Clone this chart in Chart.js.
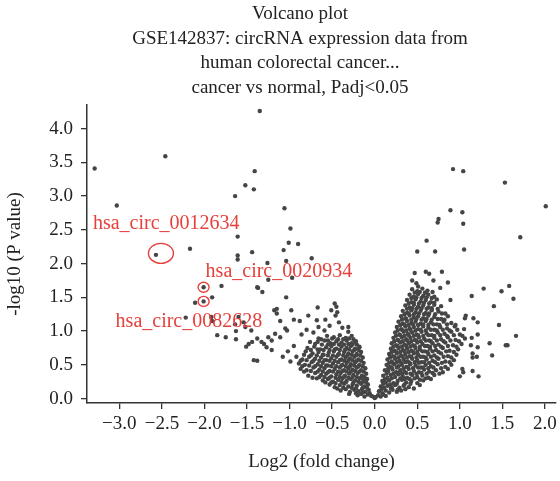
<!DOCTYPE html>
<html>
<head>
<meta charset="utf-8">
<script src="https://cdn.jsdelivr.net/npm/chart.js@4.4.1/dist/chart.umd.min.js"></script>
<style>
  html, body { margin: 0; padding: 0; background: #fff; }
  canvas { display: block; }
</style>
</head>
<body>
<canvas id="volcano" width="560" height="481"></canvas>
<script>
// Title lines
const titleLines = [
  'Volcano plot',
  'GSE142837: circRNA expression data from',
  'human colorectal cancer...',
  'cancer vs normal, Padj<0.05'
];

// Tick labels
const xTicks = [-3.0, -2.5, -2.0, -1.5, -1.0, -0.5, 0.0, 0.5, 1.0, 1.5, 2.0];
const yTicks = [0.0, 0.5, 1.0, 1.5, 2.0, 2.5, 3.0, 3.5, 4.0];

// Highlighted circRNAs
const highlightNames = ['hsa_circ_0012634', 'hsa_circ_0020934', 'hsa_circ_0082628'];
const highlightFC = [-2.57, -2.01, -2.01];
const highlightP = [2.13, 1.65, 1.44];

// [log2 fold change, -log10 P]
const downOutliers = [
  [-3.29,3.41],[-2.46,3.59],[-3.03,2.86],[-2.17,2.22],[-1.64,3.00],[-1.52,3.16],[-1.42,3.10],
  [-1.41,3.37],[-1.35,4.26],[-1.61,2.40],[-1.61,2.12],[-1.61,2.06],[-1.44,2.17],[-1.06,2.82],
  [-0.99,2.52],[-1.01,2.31],[-0.90,2.29],[-1.07,2.20],[-1.04,2.04],[-0.74,2.08],[-1.26,2.01],
  [-1.25,1.76],[-0.97,1.79]
];

const downSparse = [
  [-1.80,1.67],[-1.38,1.65],[-1.32,1.58],[-1.91,1.50],[-1.04,1.50],[-2.11,1.42],[-2.22,1.20],
  [-1.92,1.21],[-1.91,1.15],[-1.85,0.94],[-1.75,0.91],[-1.63,1.00],[-1.63,0.88],[-1.64,1.10],
  [-1.52,1.06],[-1.45,1.01],[-1.51,0.77],[-1.48,0.81],[-1.44,0.84],[-1.42,0.57],[-1.37,1.64],
  [-1.18,1.31],[-1.15,1.26],[-1.11,1.15],[-1.15,1.33],[-0.98,1.31],[-0.78,1.23],[-0.67,1.35],
  [-0.47,1.41],[-0.45,1.36],[-0.46,1.23],[-0.51,1.31],[-0.44,1.28],[-0.58,1.17],[-0.68,1.16],
  [-0.66,1.06],[-0.88,1.15],[-0.95,1.17],[-1.05,1.04],[-1.03,1.01],[-1.17,0.96],[-1.11,0.91],
  [-1.25,0.91],[-1.21,0.86],[-1.30,0.81],[-1.21,0.72],[-1.02,0.70],[-1.38,0.56],[-0.76,0.84],
  [-0.66,0.89],[-0.59,1.01],[-0.55,0.86],[-0.31,0.99],[-0.23,0.84],[-0.31,1.06],[-0.18,0.76],
  [-1.38,0.89],[-1.33,0.84],[-1.27,0.76],[-1.60,1.21],[-1.54,1.13],[-0.92,0.62],[-0.95,0.78],
  [-0.99,0.55],[-1.08,0.62],[-0.86,0.95],[-0.80,1.02],[-0.72,0.98],[-0.42,1.13],[-0.38,1.05],
  [-0.53,1.08]
];

const downCluster = [
  [-0.04,0.04],[-0.08,0.06],[-0.12,0.03],[-0.16,0.07],[-0.20,0.05],[0.00,0.01],
  [-0.07,0.13],[-0.11,0.10],[-0.15,0.14],[-0.19,0.11],[-0.24,0.13],[-0.29,0.10],[-0.34,0.14],[-0.40,0.12],
  [-0.08,0.21],[-0.12,0.18],[-0.16,0.22],[-0.21,0.19],[-0.26,0.21],[-0.31,0.18],[-0.36,0.22],[-0.41,0.20],
  [-0.47,0.17],[-0.53,0.21],
  [-0.09,0.29],[-0.13,0.26],[-0.18,0.30],[-0.23,0.27],[-0.28,0.29],[-0.33,0.26],[-0.38,0.30],[-0.43,0.28],
  [-0.49,0.25],[-0.55,0.29],[-0.61,0.27],[-0.68,0.30],
  [-0.10,0.37],[-0.15,0.34],[-0.20,0.38],[-0.25,0.35],[-0.30,0.37],[-0.35,0.34],[-0.40,0.38],[-0.45,0.36],
  [-0.51,0.33],[-0.57,0.37],[-0.63,0.35],[-0.70,0.38],[-0.78,0.34],
  [-0.11,0.45],[-0.16,0.42],[-0.21,0.46],[-0.26,0.43],[-0.31,0.45],[-0.36,0.42],[-0.41,0.46],[-0.47,0.44],
  [-0.53,0.41],[-0.59,0.45],[-0.65,0.43],[-0.72,0.46],[-0.80,0.42],[-0.87,0.44],
  [-0.13,0.53],[-0.18,0.50],[-0.23,0.54],[-0.28,0.51],[-0.33,0.53],[-0.38,0.50],[-0.43,0.54],[-0.49,0.52],
  [-0.55,0.49],[-0.61,0.53],[-0.67,0.51],[-0.74,0.54],[-0.82,0.50],[-0.89,0.52],
  [-0.14,0.61],[-0.19,0.58],[-0.24,0.62],[-0.29,0.59],[-0.34,0.61],[-0.39,0.58],[-0.45,0.62],[-0.51,0.60],
  [-0.57,0.57],[-0.63,0.61],[-0.70,0.59],[-0.77,0.62],[-0.85,0.58],
  [-0.16,0.69],[-0.21,0.66],[-0.26,0.70],[-0.31,0.67],[-0.36,0.69],[-0.42,0.66],[-0.48,0.70],[-0.54,0.68],
  [-0.60,0.65],[-0.66,0.69],[-0.73,0.67],[-0.81,0.70],
  [-0.18,0.77],[-0.23,0.74],[-0.28,0.78],[-0.33,0.75],[-0.39,0.77],[-0.45,0.74],[-0.51,0.78],[-0.57,0.76],
  [-0.64,0.73],[-0.71,0.77],[-0.79,0.75],
  [-0.22,0.85],[-0.27,0.82],[-0.33,0.86],[-0.39,0.83],[-0.45,0.85],[-0.52,0.82],[-0.59,0.86],[-0.67,0.84],
  [-0.27,0.93],[-0.34,0.90],[-0.41,0.94],[-0.48,0.91],[-0.56,0.93]
];

const downClusterFill = [
  [-0.06,0.08],[-0.14,0.09],[-0.22,0.08],[-0.30,0.07],
  [-0.09,0.16],[-0.14,0.16],[-0.22,0.15],[-0.27,0.16],[-0.37,0.16],[-0.44,0.15],
  [-0.10,0.24],[-0.15,0.24],[-0.19,0.25],[-0.25,0.24],[-0.34,0.24],[-0.39,0.25],[-0.46,0.23],[-0.51,0.24],
  [-0.58,0.24],
  [-0.12,0.32],[-0.16,0.31],[-0.21,0.32],[-0.26,0.32],[-0.31,0.31],[-0.36,0.32],[-0.41,0.32],[-0.46,0.31],
  [-0.53,0.31],[-0.59,0.32],[-0.65,0.32],[-0.73,0.31],
  [-0.13,0.40],[-0.18,0.40],[-0.23,0.41],[-0.28,0.40],[-0.33,0.40],[-0.38,0.41],[-0.43,0.40],[-0.49,0.40],
  [-0.55,0.39],[-0.61,0.40],[-0.67,0.40],[-0.75,0.41],[-0.83,0.40],
  [-0.14,0.48],[-0.19,0.48],[-0.24,0.49],[-0.29,0.48],[-0.34,0.48],[-0.39,0.49],[-0.45,0.48],[-0.51,0.48],
  [-0.57,0.49],[-0.63,0.48],[-0.70,0.48],[-0.77,0.49],[-0.85,0.48],
  [-0.16,0.56],[-0.21,0.56],[-0.26,0.57],[-0.31,0.56],[-0.36,0.56],[-0.41,0.57],[-0.47,0.56],[-0.53,0.56],
  [-0.59,0.57],[-0.65,0.56],[-0.72,0.56],[-0.80,0.57],[-0.87,0.56],
  [-0.17,0.64],[-0.22,0.64],[-0.27,0.65],[-0.32,0.64],[-0.37,0.64],[-0.43,0.65],[-0.49,0.64],[-0.55,0.64],
  [-0.61,0.65],[-0.68,0.64],[-0.75,0.64],[-0.83,0.65],
  [-0.19,0.72],[-0.24,0.72],[-0.30,0.73],[-0.35,0.72],[-0.41,0.72],[-0.47,0.73],[-0.53,0.72],[-0.60,0.72],
  [-0.67,0.73],[-0.75,0.72],
  [-0.21,0.80],[-0.26,0.80],[-0.31,0.81],[-0.36,0.80],[-0.42,0.80],[-0.48,0.81],[-0.55,0.80],[-0.62,0.80],
  [-0.70,0.81],
  [-0.25,0.88],[-0.30,0.89],[-0.37,0.88],[-0.43,0.88],[-0.50,0.89],[-0.63,0.88]
];

const upCluster = [
  [0.01,0.02],[0.04,0.05],[0.07,0.03],[0.10,0.06],[0.13,0.04],[-0.02,0.03],
  [0.05,0.11],[0.09,0.08],[0.13,0.12],[0.17,0.09],[0.21,0.13],[0.26,0.10],[0.31,0.12],
  [0.07,0.18],[0.11,0.16],[0.15,0.19],[0.20,0.17],[0.24,0.20],[0.29,0.16],[0.34,0.19],[0.40,0.17],[0.46,0.15],
  [0.09,0.26],[0.13,0.24],[0.17,0.27],[0.22,0.23],[0.27,0.26],[0.32,0.28],[0.37,0.24],[0.43,0.26],[0.50,0.23],
  [0.57,0.27],
  [0.10,0.34],[0.15,0.31],[0.19,0.35],[0.24,0.32],[0.28,0.36],[0.33,0.33],[0.38,0.31],[0.44,0.35],[0.50,0.32],
  [0.56,0.34],[0.63,0.31],[0.70,0.35],
  [0.12,0.42],[0.16,0.40],[0.21,0.43],[0.25,0.39],[0.30,0.42],[0.35,0.40],[0.40,0.44],[0.46,0.41],[0.52,0.39],
  [0.58,0.43],[0.64,0.40],[0.72,0.42],[0.80,0.39],
  [0.14,0.50],[0.18,0.47],[0.23,0.51],[0.28,0.48],[0.32,0.50],[0.37,0.47],[0.42,0.51],[0.48,0.49],[0.54,0.46],
  [0.60,0.50],[0.66,0.48],[0.74,0.51],[0.83,0.47],[0.90,0.50],
  [0.15,0.58],[0.20,0.55],[0.24,0.59],[0.29,0.56],[0.34,0.58],[0.39,0.55],[0.44,0.59],[0.50,0.57],[0.55,0.54],
  [0.61,0.58],[0.68,0.56],[0.75,0.59],[0.83,0.55],[0.93,0.57],
  [0.17,0.66],[0.21,0.63],[0.26,0.67],[0.31,0.64],[0.36,0.66],[0.41,0.63],[0.46,0.67],[0.51,0.65],[0.57,0.62],
  [0.63,0.66],[0.70,0.64],[0.78,0.67],[0.86,0.63],[0.96,0.65],
  [0.19,0.74],[0.23,0.71],[0.28,0.75],[0.33,0.72],[0.38,0.74],[0.43,0.71],[0.48,0.75],[0.53,0.73],[0.59,0.70],
  [0.65,0.74],[0.72,0.72],[0.80,0.75],[0.88,0.71],[0.98,0.73],
  [0.20,0.82],[0.25,0.79],[0.30,0.83],[0.35,0.80],[0.40,0.82],[0.45,0.79],[0.50,0.83],[0.56,0.81],[0.62,0.78],
  [0.68,0.82],[0.75,0.80],[0.83,0.83],[0.92,0.79],[1.02,0.81],
  [0.22,0.90],[0.27,0.87],[0.32,0.91],[0.37,0.88],[0.42,0.90],[0.47,0.87],[0.52,0.91],[0.58,0.89],[0.64,0.86],
  [0.70,0.90],[0.78,0.88],[0.86,0.91],[0.95,0.87],[1.06,0.89],
  [0.24,0.98],[0.29,0.95],[0.34,0.99],[0.39,0.96],[0.44,0.98],[0.49,0.95],[0.55,0.99],[0.61,0.97],[0.67,0.94],
  [0.74,0.98],[0.82,0.96],[0.90,0.99],[1.00,0.95],
  [0.26,1.06],[0.31,1.03],[0.36,1.07],[0.41,1.04],[0.46,1.06],[0.51,1.03],[0.57,1.07],[0.63,1.05],[0.70,1.02],
  [0.77,1.06],[0.85,1.04],[0.94,1.07],[1.05,1.03],
  [0.28,1.14],[0.33,1.11],[0.38,1.15],[0.43,1.12],[0.48,1.14],[0.54,1.11],[0.60,1.15],[0.66,1.13],[0.73,1.10],
  [0.81,1.14],[0.90,1.12],
  [0.31,1.22],[0.36,1.19],[0.41,1.23],[0.46,1.20],[0.51,1.22],[0.57,1.19],[0.63,1.23],[0.70,1.21],[0.78,1.18],
  [0.86,1.22],
  [0.33,1.30],[0.38,1.27],[0.43,1.31],[0.48,1.28],[0.54,1.30],[0.60,1.27],[0.67,1.31],[0.75,1.29],[0.83,1.26],
  [0.36,1.38],[0.41,1.35],[0.46,1.39],[0.51,1.36],[0.57,1.38],[0.63,1.35],[0.70,1.39],[0.78,1.37],
  [0.38,1.46],[0.43,1.43],[0.48,1.47],[0.54,1.44],[0.60,1.46],[0.66,1.43],[0.73,1.47],
  [0.41,1.54],[0.46,1.51],[0.51,1.55],[0.57,1.52],[0.63,1.54],[0.70,1.51],
  [0.44,1.62],[0.50,1.59],[0.56,1.63],[0.62,1.60],[0.68,1.58]
];

const upClusterFill = [
  [0.08,0.14],[0.19,0.15],[0.27,0.13],[0.36,0.14],
  [0.10,0.22],[0.18,0.21],[0.26,0.22],[0.35,0.21],[0.42,0.22],[0.53,0.20],
  [0.12,0.29],[0.20,0.30],[0.30,0.30],[0.35,0.29],[0.41,0.29],[0.47,0.30],[0.53,0.28],[0.60,0.30],[0.66,0.29],
  [0.14,0.37],[0.22,0.37],[0.27,0.38],[0.32,0.37],[0.37,0.38],[0.42,0.37],[0.49,0.37],[0.55,0.38],[0.61,0.37],
  [0.68,0.38],[0.76,0.37],
  [0.16,0.45],[0.20,0.46],[0.26,0.46],[0.34,0.45],[0.39,0.47],[0.45,0.45],[0.51,0.46],[0.57,0.46],[0.63,0.45],
  [0.69,0.46],[0.78,0.45],[0.86,0.44],
  [0.17,0.53],[0.21,0.53],[0.26,0.54],[0.31,0.53],[0.36,0.54],[0.41,0.53],[0.47,0.54],[0.52,0.53],[0.58,0.54],
  [0.64,0.53],[0.71,0.54],[0.79,0.53],[0.88,0.54],
  [0.18,0.61],[0.23,0.62],[0.28,0.61],[0.33,0.62],[0.38,0.61],[0.43,0.62],[0.49,0.61],[0.54,0.62],[0.60,0.61],
  [0.66,0.62],[0.73,0.61],[0.81,0.62],[0.90,0.61],
  [0.20,0.69],[0.25,0.70],[0.30,0.69],[0.35,0.70],[0.40,0.69],[0.45,0.70],[0.50,0.69],[0.56,0.70],[0.62,0.69],
  [0.68,0.70],[0.75,0.69],[0.84,0.70],[0.93,0.69],
  [0.22,0.77],[0.27,0.78],[0.32,0.77],[0.37,0.78],[0.42,0.77],[0.47,0.78],[0.53,0.77],[0.59,0.78],[0.65,0.77],
  [0.71,0.78],[0.78,0.77],[0.86,0.78],[0.96,0.77],
  [0.23,0.85],[0.28,0.86],[0.33,0.85],[0.38,0.86],[0.43,0.85],[0.49,0.86],[0.54,0.85],[0.60,0.86],[0.66,0.85],
  [0.73,0.86],[0.81,0.85],[0.89,0.86],[0.99,0.85],
  [0.25,0.93],[0.30,0.94],[0.35,0.93],[0.40,0.94],[0.46,0.93],[0.51,0.94],[0.57,0.93],[0.63,0.94],[0.70,0.93],
  [0.77,0.94],[0.85,0.93],[0.93,0.94],[1.03,0.93],
  [0.27,1.01],[0.32,1.02],[0.37,1.01],[0.42,1.02],[0.48,1.01],[0.54,1.02],[0.60,1.01],[0.66,1.02],[0.73,1.01],
  [0.80,1.02],[0.88,1.01],[0.97,1.02],
  [0.30,1.09],[0.35,1.10],[0.40,1.09],[0.45,1.10],[0.51,1.09],[0.57,1.10],[0.63,1.09],[0.69,1.10],[0.76,1.09],
  [0.85,1.10],[0.95,1.09],
  [0.32,1.17],[0.37,1.18],[0.43,1.17],[0.49,1.18],[0.55,1.17],[0.61,1.18],[0.67,1.17],[0.74,1.18],[0.82,1.17],
  [0.35,1.25],[0.40,1.26],[0.46,1.25],[0.52,1.26],[0.58,1.25],[0.64,1.26],[0.71,1.25],[0.79,1.26],
  [0.38,1.33],[0.44,1.34],[0.49,1.33],[0.55,1.34],[0.61,1.33],[0.67,1.34],[0.74,1.33],
  [0.40,1.41],[0.46,1.42],[0.52,1.41],[0.58,1.42],[0.64,1.41],[0.70,1.42],
  [0.43,1.49],[0.49,1.50],[0.55,1.49],[0.61,1.50],[0.67,1.49],
  [0.47,1.57],[0.53,1.58],[0.59,1.57]
];

const upSparse = [
  [1.14,1.52],[1.28,1.63],[1.49,1.59],[1.58,1.67],[1.63,1.48],[1.40,1.37],[1.46,1.09],[1.66,0.93],
  [1.54,0.79],[1.56,0.79],[1.35,0.82],[1.38,0.64],[1.22,0.33],[1.15,0.41],[1.03,0.44],[1.04,0.39],
  [1.00,0.33],[1.21,0.95],[1.21,0.76],[1.15,0.67],[1.20,0.62],[1.15,0.61],[1.16,1.19],[1.21,1.13],
  [1.07,1.23],[1.06,1.19],[1.14,0.90],[1.13,0.79],[0.89,1.46],[0.86,1.72],[0.77,1.64],[0.79,1.88],
  [0.69,1.75],[0.60,1.88],[0.64,1.85],[0.47,1.86],[0.44,1.75],[0.49,1.71],[0.51,1.66],[0.60,1.57]
];

const upOutliers = [
  [0.92,3.40],[1.04,3.37],[1.53,3.20],[2.01,2.85],[0.89,2.79],[1.03,2.76],[0.75,2.66],[0.74,2.61],
  [1.04,2.59],[1.71,2.39],[0.61,2.34],[0.50,2.18],[0.71,2.18],[1.05,2.21]
];

const FONT = 'Liberation Serif, Times New Roman, serif';
const POINT_COLOR = '#454545';
const RED = '#e5403b';
const AXIS = '#333333';

function toXY(list) {
  return list.map(([x, y]) => ({ x, y }));
}

const allPoints = [].concat(
  downOutliers, downSparse, downCluster, downClusterFill,
  upCluster, upClusterFill, upSparse, upOutliers
);
const highlightPoints = highlightFC.map((x, i) => ({ x, y: highlightP[i] }));

// Title drawn over the plot, centred like the original
const titlePlugin = {
  id: 'volcanoTitle',
  afterDraw(chart) {
    const c = chart.ctx;
    c.save();
    c.fillStyle = '#222';
    c.font = '19px ' + FONT;
    c.textAlign = 'center';
    c.textBaseline = 'middle';
    titleLines.forEach((line, i) => {
      c.fillText(line, 300, 14 + i * 24.6);
    });
    c.restore();
  }
};

// Red circles and names for the highlighted circRNAs
const highlightPlugin = {
  id: 'highlights',
  afterDatasetsDraw(chart) {
    const c = chart.ctx;
    const xs = chart.scales.x;
    const ys = chart.scales.y;
    const labelOffsets = [[-63, -31], [2, -15], [-88, 20]];
    c.save();
    c.strokeStyle = RED;
    c.fillStyle = RED;
    c.lineWidth = 1.4;
    highlightNames.forEach((name, i) => {
      const px = xs.getPixelForValue(highlightFC[i]);
      const py = ys.getPixelForValue(highlightP[i]);
      c.beginPath();
      if (i === 0) {
        c.ellipse(px + 5, py - 1.5, 12.5, 10, 0, 0, Math.PI * 2);
      } else {
        c.ellipse(px, py, 5.5, 5, 0, 0, Math.PI * 2);
      }
      c.stroke();
      c.font = '20px ' + FONT;
      c.textAlign = 'left';
      c.textBaseline = 'middle';
      c.fillText(name, px + labelOffsets[i][0], py + labelOffsets[i][1]);
    });
    c.restore();
  }
};

const tickFont = { family: FONT, size: 19 };

new Chart(document.getElementById('volcano'), {
  type: 'scatter',
  data: {
    datasets: [
      {
        data: toXY(allPoints),
        backgroundColor: POINT_COLOR,
        borderWidth: 0,
        pointRadius: 2.2
      },
      {
        data: highlightPoints,
        backgroundColor: POINT_COLOR,
        borderWidth: 0,
        pointRadius: 2.2
      }
    ]
  },
  options: {
    responsive: false,
    animation: false,
    layout: { padding: { top: 105, right: 1, left: 0, bottom: 0 } },
    plugins: {
      legend: { display: false },
      tooltip: { enabled: false }
    },
    scales: {
      x: {
        type: 'linear',
        min: -3.38,
        max: 2.13,
        afterBuildTicks: (s) => { s.ticks = xTicks.map(v => ({ value: v })); },
        afterFit: (s) => { s.height = 78; s.paddingLeft = 0; s.paddingRight = 0; },
        grid: { drawOnChartArea: false, drawTicks: true, tickLength: 6, color: AXIS, lineWidth: 1.3 },
        border: { display: true, color: AXIS, width: 1.5 },
        ticks: {
          font: tickFont,
          color: '#222',
          padding: 4,
          maxRotation: 0,
          autoSkip: false,
          callback: (v) => (v < 0 ? '\u2212' : '') + Math.abs(v).toFixed(1)
        },
        title: {
          display: true,
          text: 'Log2 (fold change)',
          font: tickFont,
          color: '#222',
          padding: { top: 0, bottom: 8 }
        }
      },
      y: {
        type: 'linear',
        min: -0.065,
        max: 4.35,
        afterBuildTicks: (s) => { s.ticks = yTicks.map(v => ({ value: v })); },
        afterFit: (s) => { s.width = 87; s.paddingTop = 0; s.paddingBottom = 0; },
        grid: { drawOnChartArea: false, drawTicks: true, tickLength: 6, color: AXIS, lineWidth: 1.3 },
        border: { display: true, color: AXIS, width: 1.5 },
        ticks: {
          font: tickFont,
          color: '#222',
          padding: 8,
          autoSkip: false,
          callback: (v) => v.toFixed(1)
        },
        title: {
          display: true,
          text: '-log10 (P value)',
          font: tickFont,
          color: '#222',
          padding: { top: 4, bottom: 0 }
        }
      }
    }
  },
  plugins: [titlePlugin, highlightPlugin]
});
</script>
</body>
</html>
